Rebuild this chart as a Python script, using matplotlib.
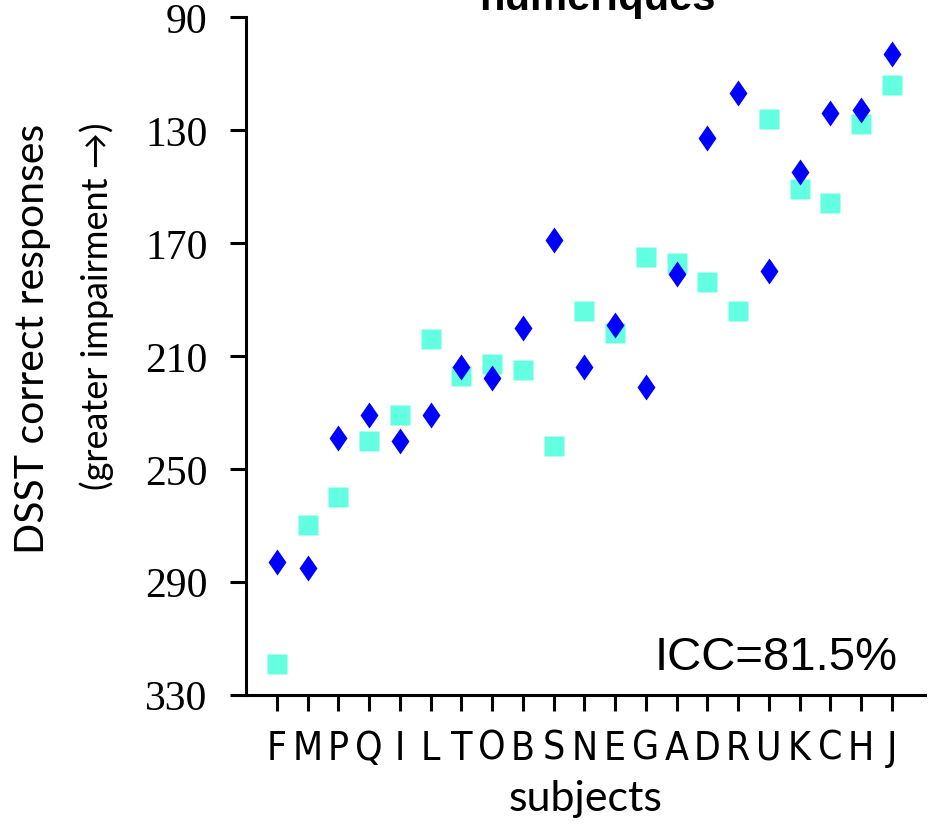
import numpy as np
import matplotlib
matplotlib.use('Agg')
import matplotlib.pyplot as plt

# subjects, ordered as on the x axis
subjects = ['F', 'M', 'P', 'Q', 'I', 'L', 'T', 'O', 'B', 'S', 'N',
            'E', 'G', 'A', 'D', 'R', 'U', 'K', 'C', 'H', 'J']
# DSST correct responses, two sessions
session_squares = [319, 270, 260, 240, 231, 204, 217, 213, 215, 242, 194,
                   202, 175, 177, 184, 194, 126, 151, 156, 128, 114]
session_diamonds = [283, 285, 239, 231, 240, 231, 214, 218, 200, 169, 214,
                    199, 221, 181, 133, 117, 180, 145, 124, 123, 103]
y_ticks = [90, 130, 170, 210, 250, 290, 330]
icc_label = 'ICC=81.5%'

W, H = 942, 829
fig = plt.figure(figsize=(W / 100, H / 100), dpi=100)
ax = fig.add_axes([246 / W, 1 - 695.7 / H, 679 / W, 677.7 / H])

x = np.arange(len(subjects))
diamond = [(0, 1), (0.69, 0), (0, -1), (-0.69, 0), (0, 1)]
ax.plot(x, session_squares, ls='none', marker='s', ms=14.4,
        mfc='#62FFE0', mec='none', zorder=3, clip_on=False)
ax.plot(x, session_diamonds, ls='none', marker=diamond, ms=18.7,
        mfc='#0000FF', mec='none', zorder=4, clip_on=False)

ax.set_xlim(-1, 21.08)
ax.set_ylim(330, 90)
ax.set_yticks(y_ticks)
ax.set_xticks(x)
ax.set_xticklabels(subjects, family='DejaVu Sans', fontstretch='condensed',
                   fontsize=28)
ax.set_yticklabels([str(v) for v in y_ticks], family='Liberation Serif',
                   fontsize=30)

for side in ['top', 'right']:
    ax.spines[side].set_visible(False)
for side in ['left', 'bottom']:
    ax.spines[side].set_linewidth(2.2)
ax.tick_params(axis='both', length=11.5, width=2.2, direction='out')
ax.tick_params(axis='y', pad=16)
ax.tick_params(axis='x', pad=13)

ax.set_xlabel('subjects', family=['Lato', 'DejaVu Sans'], fontsize=31, labelpad=9)

fig.text(33 / W, 1 - 124 / H, 'DSST correct responses', rotation=90,
         ha='center', va='top', family=['Lato', 'DejaVu Sans'], fontsize=29.5)
fig.text(97 / W, 1 - 123 / H, '(greater impairment \u2192)', rotation=90,
         ha='center', va='top', family=['Lato', 'DejaVu Sans'], fontsize=26)

ax.text(0.96, 0.038, icc_label, transform=ax.transAxes, ha='right',
        va='baseline', family='Liberation Sans', fontsize=34)

fig.text(597.5 / W, 1 - 10 / H, 'numériques', ha='center', va='baseline',
         family='Liberation Sans', fontweight='bold', fontsize=30)

fig.savefig('out.png', dpi=100)
